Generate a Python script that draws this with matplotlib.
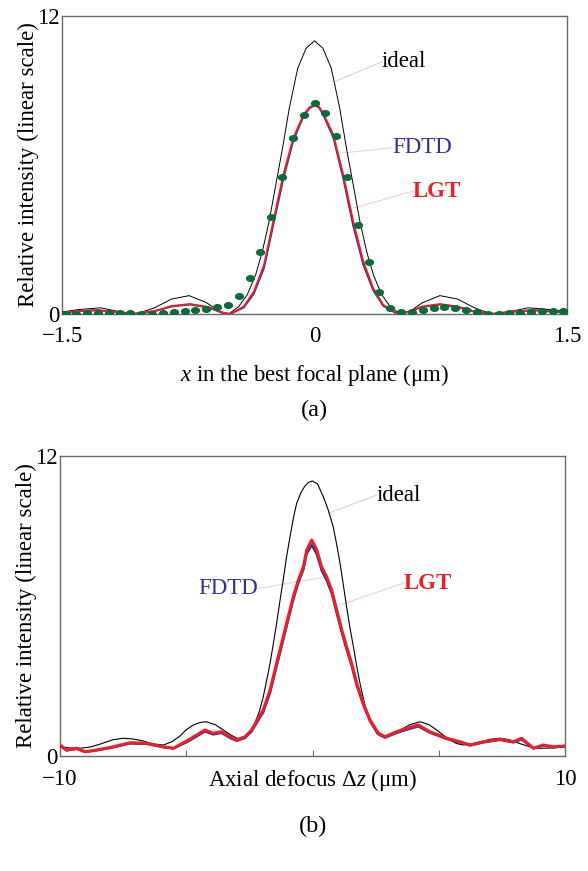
import numpy as np
import matplotlib
matplotlib.use('Agg')
import matplotlib.pyplot as plt
from matplotlib.path import Path
from matplotlib.transforms import Affine2D

plt.rcParams['font.family'] = ['Liberation Serif', 'DejaVu Serif']
plt.rcParams['mathtext.fontset'] = 'custom'
plt.rcParams['mathtext.rm'] = 'Liberation Serif'
plt.rcParams['mathtext.it'] = 'Liberation Serif:italic'

# ---- panel (a): lateral profile in the best focal plane ----
ideal_a_x = [-1.5, -1.40, -1.27, -1.15, -1.06, -0.95, -0.85, -0.745, -0.64, -0.57, -0.51,
             -0.45, -0.40, -0.35, -0.31, -0.27, -0.23, -0.19, -0.15, -0.10, -0.05, 0.0,
             0.05, 0.10, 0.15, 0.19, 0.23, 0.27, 0.31, 0.35, 0.40, 0.45,
             0.51, 0.57, 0.64, 0.745, 0.85, 0.95, 1.05, 1.15, 1.27, 1.40, 1.5]
ideal_a_y = [0.08, 0.18, 0.25, 0.08, 0.0, 0.25, 0.60, 0.74, 0.45, 0.12, 0.0,
             0.30, 0.77, 1.57, 2.51, 3.72, 5.20, 6.67, 8.28, 9.89, 10.70, 11.0,
             10.70, 9.89, 8.28, 6.67, 5.20, 3.72, 2.51, 1.57, 0.77, 0.29,
             0.0, 0.12, 0.45, 0.74, 0.60, 0.25, 0.0, 0.08, 0.25, 0.18, 0.09]

lgt_a_x = [-1.5, -1.40, -1.29, -1.18, -1.08, -0.95, -0.85, -0.74, -0.63, -0.55, -0.50,
           -0.42, -0.36, -0.30, -0.245, -0.185, -0.126, -0.066, -0.03, 0.0, 0.026,
           0.052, 0.112, 0.171, 0.23, 0.29, 0.349, 0.409, 0.488, 0.55, 0.64, 0.745,
           0.85, 0.95, 1.05, 1.18, 1.30, 1.42, 1.5]
lgt_a_y = [0.03, 0.12, 0.16, 0.08, 0.0, 0.12, 0.32, 0.40, 0.28, 0.06, 0.0,
           0.30, 0.90, 1.97, 3.72, 5.60, 7.08, 8.01, 8.32, 8.42, 8.35,
           8.08, 7.21, 5.60, 3.72, 2.11, 1.03, 0.36, 0.02, 0.08, 0.30, 0.40,
           0.30, 0.10, 0.0, 0.10, 0.16, 0.10, 0.06]
fdtd_a_y = [0.03, 0.11, 0.15, 0.07, 0.0, 0.11, 0.30, 0.38, 0.26, 0.05, 0.0,
            0.26, 0.82, 1.85, 3.58, 5.45, 6.98, 7.95, 8.28, 8.40, 8.32,
            8.02, 7.10, 5.45, 3.55, 1.98, 0.95, 0.32, 0.02, 0.07, 0.28, 0.38,
            0.28, 0.09, 0.0, 0.09, 0.15, 0.09, 0.05]

dots_a_y = [0.0, 0.0, 0.03, 0.04, 0.04, 0.03, 0.03, 0.0, 0.01, 0.05, 0.09, 0.12,
            0.16, 0.21, 0.28, 0.38, 0.74, 1.44, 2.51, 3.92, 5.53, 7.08, 8.01,
            8.48,
            8.08, 7.18, 5.53, 3.58, 2.08, 0.87, 0.26, 0.07, 0.07, 0.16, 0.24,
            0.28, 0.24, 0.15, 0.07, 0.0, 0.0, 0.03, 0.05, 0.09, 0.12, 0.12, 0.11]
dots_a_x = np.linspace(-1.479, 1.479, len(dots_a_y))

# ---- panel (b): axial profile ----
ideal_b_x = [-10, -9.6, -9.2, -8.8, -8.4, -7.9, -7.5, -7.1, -6.7, -6.3, -5.9, -5.55,
             -5.25, -5.0, -4.72, -4.45, -4.2, -3.85, -3.53, -3.25, -3.0, -2.85, -2.67,
             -2.47, -2.28, -2.1, -1.95, -1.82, -1.68, -1.55, -1.42, -1.29, -1.16,
             -1.03, -0.89, -0.76, -0.63, -0.45, -0.3, -0.15, 0.0, 0.2, 0.43, 0.62,
             0.82, 0.95, 1.09, 1.22, 1.35, 1.48, 1.62, 1.75, 1.88, 2.02, 2.15, 2.35,
             2.54, 2.7, 2.87, 3.15, 3.47, 3.85, 4.26, 4.6, 4.92, 5.2, 5.45, 5.7,
             5.97, 6.3, 6.7, 7.05, 7.43, 7.8, 8.2, 8.6, 9.0, 9.5, 10]
ideal_b_y = [0.37, 0.32, 0.31, 0.36, 0.48, 0.65, 0.71, 0.68, 0.60, 0.48, 0.44, 0.58,
             0.80, 1.05, 1.24, 1.34, 1.37, 1.25, 1.04, 0.85, 0.71, 0.70, 0.77,
             0.98, 1.31, 1.80, 2.37, 3.00, 3.71, 4.50, 5.31, 6.20, 7.04,
             7.95, 8.77, 9.50, 10.10, 10.55, 10.80, 10.95, 11.0, 10.88, 10.37, 9.85,
             9.17, 8.50, 7.71, 6.85, 5.97, 5.15, 4.37, 3.60, 2.91, 2.27, 1.71, 1.25,
             0.91, 0.80, 0.77, 0.88, 1.04, 1.25, 1.37, 1.26, 1.04, 0.82, 0.64, 0.50,
             0.44, 0.48, 0.58, 0.67, 0.71, 0.65, 0.50, 0.37, 0.31, 0.32, 0.37]

lgt_b_x = [-10, -9.74, -9.34, -9.01, -8.55, -7.89, -7.23, -6.57, -5.91, -5.51, -4.98,
           -4.59, -4.26, -3.93, -3.60, -3.27, -3.0, -2.67, -2.41, -2.15, -1.95, -1.68,
           -1.42, -1.22, -0.96, -0.76, -0.56, -0.36, -0.23, -0.03, 0.17, 0.36, 0.56,
           0.76, 0.96, 1.16, 1.35, 1.55, 1.75, 2.01, 2.28, 2.61, 2.87, 3.33, 3.73,
           4.19, 4.65, 5.18, 5.31, 5.84, 6.24, 6.77, 7.43, 7.95, 8.28, 8.75, 9.14,
           9.54, 10]
lgt_b_y = [0.44, 0.24, 0.31, 0.17, 0.24, 0.37, 0.53, 0.51, 0.37, 0.31, 0.60,
           0.84, 1.04, 0.91, 0.97, 0.77, 0.64, 0.77, 1.04, 1.51, 1.84, 2.64,
           3.71, 4.51, 5.57, 6.37, 7.04, 7.57, 8.24, 8.64, 8.24, 7.57, 7.17,
           6.64, 5.84, 5.04, 4.37, 3.71, 2.91, 2.11, 1.44, 0.91, 0.77, 0.97, 1.11,
           1.24, 0.97, 0.77, 0.71, 0.57, 0.44, 0.57, 0.67, 0.57, 0.71, 0.31, 0.44,
           0.37, 0.40]
fdtd_b_y = [0.40, 0.22, 0.28, 0.16, 0.22, 0.34, 0.50, 0.48, 0.35, 0.30, 0.55,
            0.78, 0.98, 0.86, 0.92, 0.72, 0.60, 0.72, 0.98, 1.42, 1.74, 2.52,
            3.58, 4.38, 5.44, 6.24, 6.92, 7.45, 8.08, 8.44, 8.06, 7.42, 7.02,
            6.50, 5.70, 4.92, 4.25, 3.60, 2.82, 2.04, 1.38, 0.87, 0.73, 0.92, 1.05,
            1.18, 0.93, 0.73, 0.68, 0.54, 0.42, 0.54, 0.64, 0.54, 0.66, 0.30, 0.42,
            0.35, 0.38]

RED = '#e8202a'
BLUE = '#2e3192'
GREEN = '#0b6b3a'
SPINE = '#6a6a6a'
FS = 16.5

W, H = 588, 871
fig = plt.figure(figsize=(W / 100, H / 100), dpi=100)


def px_axes(left, top, right, bottom):
    return fig.add_axes([left / W, 1 - bottom / H, (right - left) / W, (bottom - top) / H])


def style(ax, minor):
    for s in ax.spines.values():
        s.set_color(SPINE)
        s.set_linewidth(1.0)
    ax.set_ylim(0, 12)
    ax.set_yticks([0, 12])
    ax.set_yticklabels(['0', '12'], fontsize=FS)
    ax.tick_params(axis='y', length=0, pad=2)
    ax.tick_params(axis='x', length=0, pad=9, labelsize=FS)
    ax.set_xticks(minor, minor=True)
    ax.tick_params(axis='x', which='minor', direction='in', length=4, color=SPINE, width=0.8)


def label(ax, text, xy_line, xy_text, color, weight='normal', lcolor='#cfcfcf', ha='left'):
    ax.plot([xy_line[0], xy_text[0]], [xy_line[1], xy_text[1]], color=lcolor, lw=0.7, zorder=1)
    ax.text(xy_text[0], xy_text[1], text, color=color, fontsize=FS, fontweight=weight,
            ha=ha, va='center')


# ---- (a) ----
ax1 = px_axes(62, 16, 567, 314)
ax1.plot(ideal_a_x, ideal_a_y, color='black', lw=0.7, zorder=3)
ax1.plot(lgt_a_x, fdtd_a_y, color=BLUE, lw=1.3, zorder=4)
ax1.plot(lgt_a_x, lgt_a_y, color=RED, lw=1.4, zorder=5)
ellipse = Path.unit_circle().transformed(Affine2D().scale(1.0, 0.72))
ax1.plot(dots_a_x, dots_a_y, ls='none', marker=ellipse, ms=5.6, color=GREEN, mec=GREEN, zorder=6)
ax1.set_xlim(-1.5, 1.5)
ax1.set_xticks([-1.5, 0, 1.5])
ax1.set_xticklabels(['\u22121.5', '0', '1.5'])
style(ax1, [0])
label(ax1, 'ideal', (0.122, 9.36), (0.40, 10.15), 'black')
label(ax1, 'FDTD', (0.146, 6.47), (0.46, 6.69), BLUE, lcolor='#d4d6e6')
label(ax1, 'LGT', (0.230, 4.26), (0.585, 4.95), RED, weight='bold', lcolor='#f5c6cc')
ax1.set_ylabel('Relative intensity (linear scale)', fontsize=FS, labelpad=-2)
fig.text(314 / W, 1 - 375 / H, r'$x$ in the best focal plane (μm)', fontsize=FS,
         ha='center', va='center')
fig.text(314 / W, 1 - 410 / H, '(a)', fontsize=FS + 1, ha='center', va='center')

# ---- (b) ----
ax2 = px_axes(60, 456, 565, 756)
ax2.plot(ideal_b_x, ideal_b_y, color='black', lw=0.8, zorder=3)
ax2.plot(lgt_b_x, fdtd_b_y, color=BLUE, lw=1.6, zorder=4)
ax2.plot(lgt_b_x, lgt_b_y, color=RED, lw=2.2, zorder=5)
ax2.set_xlim(-10, 10)
ax2.set_xticks([-10, 10])
ax2.set_xticklabels(['\u221210', '10'])
style(ax2, [-5, 0, 5])
label(ax2, 'ideal', (0.63, 9.71), (2.55, 10.44), 'black')
label(ax2, 'LGT', (1.09, 6.04), (3.62, 6.92), RED, weight='bold', lcolor='#f5c6cc')
label(ax2, 'FDTD', (0.56, 7.17), (-2.15, 6.70), BLUE, lcolor='#d4d6e6', ha='right')
ax2.set_ylabel('Relative intensity (linear scale)', fontsize=FS, labelpad=-2)
fig.text(313 / W, 1 - 780 / H, r'Axial defocus Δ$z$ (μm)', fontsize=FS,
         ha='center', va='center')
fig.text(313 / W, 1 - 826 / H, '(b)', fontsize=FS + 1, ha='center', va='center')

fig.savefig('out.png', dpi=100, facecolor='white')
